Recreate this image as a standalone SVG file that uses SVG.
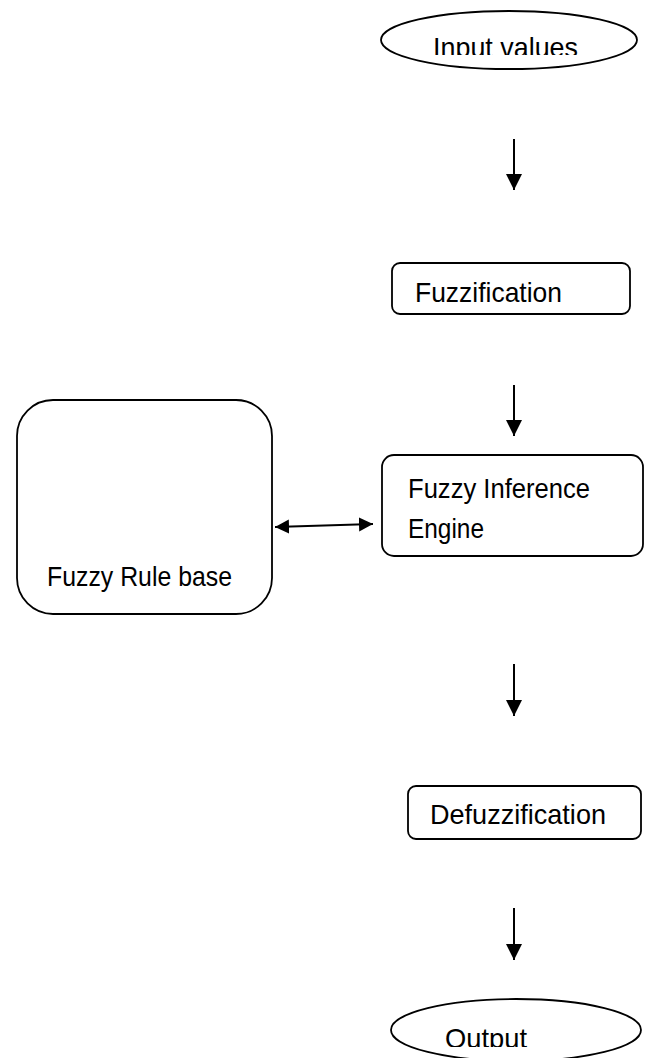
<svg xmlns="http://www.w3.org/2000/svg" width="645" height="1058" viewBox="0 0 645 1058">
  <style>
    .shape { fill: #ffffff; stroke: #000000; stroke-width: 1.8; }
    .label { font-family: "Liberation Sans", Arial, sans-serif; font-size: 28px; fill: #000000; }
    .wire { stroke: #000000; stroke-width: 2; fill: none; }
  </style>
  <defs>
    <marker id="headDown" viewBox="0 0 10 10" refX="10" refY="5" markerWidth="17" markerHeight="16" markerUnits="userSpaceOnUse" orient="auto">
      <path d="M0,0 L10,5 L0,10 Z" fill="#000000"/>
    </marker>
    <marker id="headSide" viewBox="0 0 10 10" refX="10" refY="5" markerWidth="14" markerHeight="15" markerUnits="userSpaceOnUse" orient="auto-start-reverse">
      <path d="M0,0 L10,5 L0,10 Z" fill="#000000"/>
    </marker>
    <clipPath id="clipInput"><rect x="380" y="0" width="265" height="55"/></clipPath>
    <clipPath id="clipOutput"><rect x="380" y="990" width="265" height="57"/></clipPath>
  </defs>

  <rect width="645" height="1058" fill="#ffffff"/>

  <g id="input-values">
    <ellipse class="shape" cx="509" cy="40" rx="128" ry="29"/>
    <text class="label" x="433" y="57" textLength="145" lengthAdjust="spacingAndGlyphs" clip-path="url(#clipInput)">Input values</text>
  </g>

  <g id="fuzzification">
    <rect class="shape" x="392" y="263" width="238" height="51" rx="8"/>
    <text class="label" x="415" y="302" textLength="147" lengthAdjust="spacingAndGlyphs">Fuzzification</text>
  </g>

  <g id="rule-base">
    <rect class="shape" x="17" y="400" width="255" height="214" rx="36"/>
    <text class="label" x="47" y="586" textLength="185" lengthAdjust="spacingAndGlyphs">Fuzzy Rule base</text>
  </g>

  <g id="inference-engine">
    <rect class="shape" x="382" y="455" width="261" height="101" rx="12"/>
    <text class="label" x="408" y="498" textLength="182" lengthAdjust="spacingAndGlyphs">Fuzzy Inference</text>
    <text class="label" x="408" y="538" textLength="76" lengthAdjust="spacingAndGlyphs">Engine</text>
  </g>

  <g id="defuzzification">
    <rect class="shape" x="408" y="786" width="233" height="53" rx="8"/>
    <text class="label" x="430" y="824" textLength="176" lengthAdjust="spacingAndGlyphs">Defuzzification</text>
  </g>

  <g id="output">
    <ellipse class="shape" cx="516" cy="1030" rx="125" ry="31"/>
    <text class="label" x="445" y="1048" textLength="82" lengthAdjust="spacingAndGlyphs" clip-path="url(#clipOutput)">Output</text>
  </g>

  <g id="connectors">
    <line class="wire" x1="514" y1="139" x2="514" y2="190" marker-end="url(#headDown)"/>
    <line class="wire" x1="514" y1="385" x2="514" y2="436" marker-end="url(#headDown)"/>
    <line class="wire" x1="275" y1="527" x2="373" y2="524" marker-start="url(#headSide)" marker-end="url(#headSide)"/>
    <line class="wire" x1="514" y1="664" x2="514" y2="716" marker-end="url(#headDown)"/>
    <line class="wire" x1="514" y1="908" x2="514" y2="960" marker-end="url(#headDown)"/>
  </g>
</svg>
